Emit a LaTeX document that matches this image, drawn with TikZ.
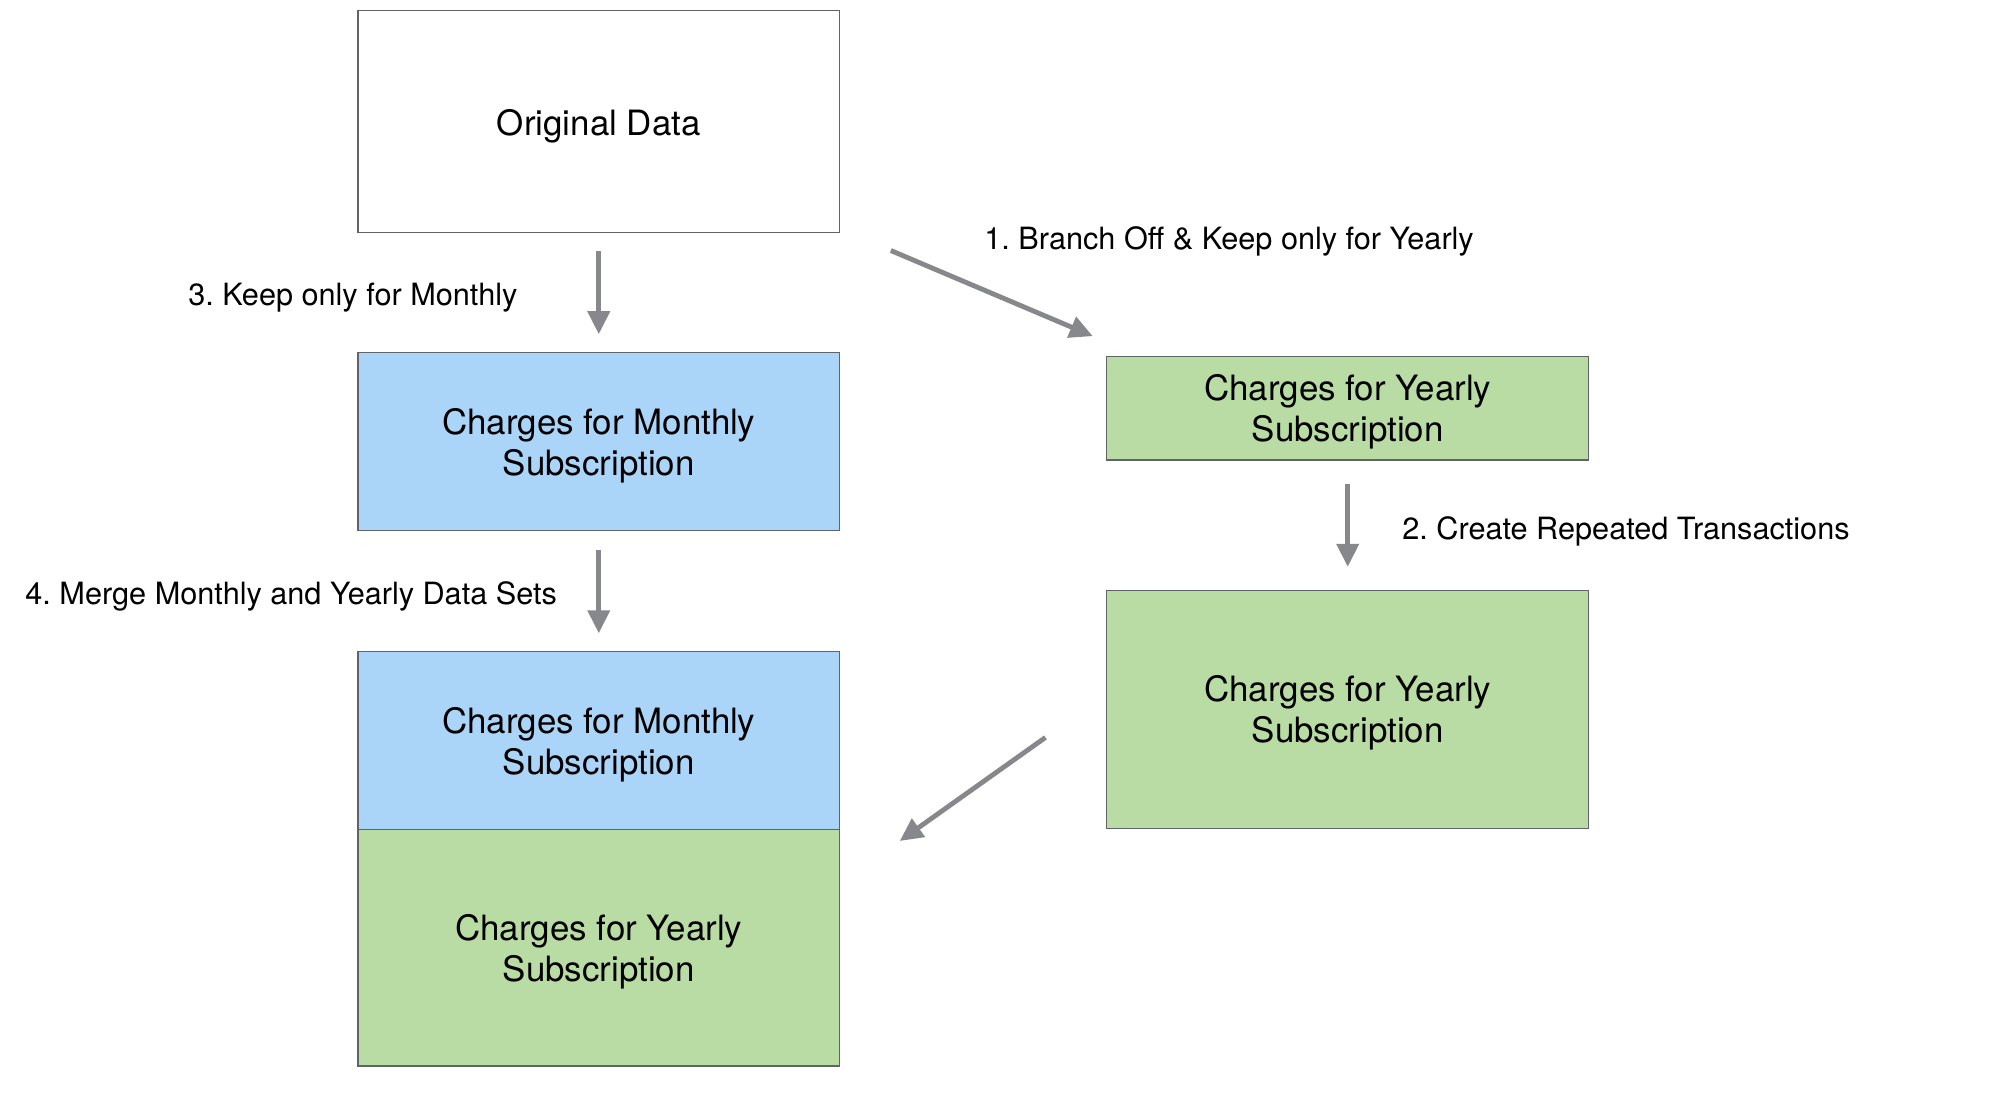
\documentclass[tikz,border=0pt]{standalone}
\usepackage{fontspec}
\setmainfont{TeX Gyre Heros}
\usetikzlibrary{arrows.meta}
\definecolor{bluebox}{HTML}{AAD4F8}
\definecolor{greenbox}{HTML}{B9DCA4}
\definecolor{edgegray}{HTML}{606368}
\definecolor{arrgray}{HTML}{86888C}
\frenchspacing
\tikzset{
  box/.style={draw=edgegray, line width=1pt, inner sep=0pt, minimum width=377pt},
  boxtxt/.style={align=center, inner sep=0pt, font=\fontsize{27.3}{32}\selectfont},
  lbl/.style={font=\fontsize{24}{28}\selectfont, inner sep=0pt},
  arr/.style={draw=arrgray, line width=3.8pt, -{Triangle[length=18pt,width=17pt]}}
}
\begin{document}
\begin{tikzpicture}[x=1pt,y=-1pt]
\useasboundingbox (0,0) rectangle (1568,876.3);
\node[box, fill=white, minimum height=174pt] (orig) at (468.5,95) {};
\node[box, fill=bluebox, minimum height=139pt] (mon) at (468.5,345.5) {};
\node[box, fill=greenbox, minimum height=81pt] (yr1) at (1054.5,319.5) {};
\node[box, fill=greenbox, minimum height=186pt] (yr2) at (1054.5,555) {};
\node[box, fill=bluebox, minimum height=139pt] (mmon) at (468.5,579.5) {};
\node[box, fill=greenbox, minimum height=185pt] (myr) at (468.5,741.5) {};

\node[boxtxt] (torig) at ([yshift=-3.5pt]orig.center) {Original Data};
\node[boxtxt] (tmon) at ([yshift=-3pt]mon.center) {Charges for Monthly\\Subscription};
\node[boxtxt] (tyr1) at ([yshift=-3pt]yr1.center) {Charges for Yearly\\Subscription};
\node[boxtxt] (tyr2) at ([yshift=-3pt]yr2.center) {Charges for Yearly\\Subscription};
\node[boxtxt] (tmmon) at ([yshift=-3pt]mmon.center) {Charges for Monthly\\Subscription};
\node[boxtxt] (tmyr) at ([yshift=-3pt]myr.center) {Charges for Yearly\\Subscription};

\coordinate (s1) at (697,196);
\coordinate (e1) at (855,263);
\coordinate (s5) at (818,577);
\coordinate (e5) at (704,658);

\draw[arr] ([yshift=-14pt]orig.south) -- ([yshift=14pt]mon.north);
\draw[arr] (s1) -- (e1);
\draw[arr] ([yshift=-18pt]yr1.south) -- ([yshift=18pt]yr2.north);
\draw[arr] ([yshift=-15pt]mon.south) -- ([yshift=14pt]mmon.north);
\draw[arr] (s5) -- (e5);

\node[lbl, anchor=west] (l1) at (770,189) {1. Branch Off \& Keep only for Yearly};
\node[lbl, anchor=east] (l3) at (405,233) {3. Keep only for Monthly};
\node[lbl, anchor=west] (l2) at (1097,416) {2. Create Repeated Transactions};
\node[lbl, anchor=east] (l4) at (436,467) {4. Merge Monthly and Yearly Data Sets};
\end{tikzpicture}
\end{document}
